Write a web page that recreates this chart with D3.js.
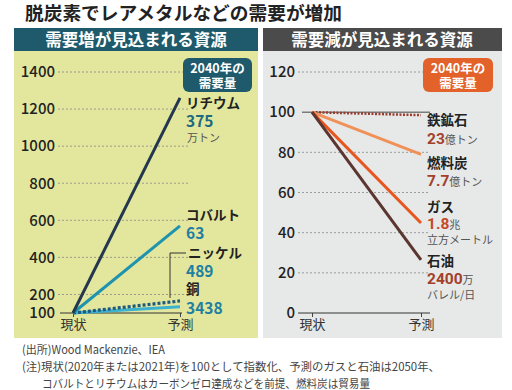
<!DOCTYPE html>
<html><head><meta charset="utf-8">
<script src="https://cdn.jsdelivr.net/npm/d3@7"></script>
<style>
body{margin:0;background:#fff;}
svg text{font-family:"Noto Sans CJK JP","Noto Sans",sans-serif;}
</style></head>
<body>
<svg id="c" width="512" height="390"></svg>
<script>
const xCats = ["現状", "予測"];
// left panel: demand increase (index, 現状=100)
const incNames = ["リチウム", "コバルト", "ニッケル", "銅"];
const incValues = [[100, 1260], [100, 570], [100, 165], [100, 134]];
const incAmounts = ["375", "63", "489", "3438"];
const incUnits = ["万トン", "", "", ""];
const incTicks = [100, 200, 400, 600, 800, 1000, 1200, 1400];
// right panel: demand decrease
const decNames = ["鉄鉱石", "燃料炭", "ガス", "石油"];
const decValues = [[100, 98.5], [100, 79], [100, 44.8], [100, 26.4]];
const decAmounts = ["23", "7.7", "1.8", "2400"];
const decUnits = ["億トン", "億トン", "兆", "万"];
const decUnits2 = ["", "", "立方メートル", "バレル/日"];
const decTicks = [0, 20, 40, 60, 80, 100, 120];

const svg = d3.select("#c");
const F = '"Noto Sans CJK JP","Noto Sans",sans-serif';
const NUMF = "Roboto,'Noto Sans',sans-serif";

// title
svg.append("text").attr("x", 25).attr("y", 20).attr("font-size", 18.5).attr("font-weight", 700)
  .attr("fill", "#222").attr("textLength", 317).attr("lengthAdjust", "spacingAndGlyphs")
  .text("脱炭素でレアメタルなどの需要が増加");

// panels
svg.append("rect").attr("x", 14).attr("y", 28).attr("width", 244).attr("height", 310).attr("fill", "#e3e79d");
svg.append("rect").attr("x", 14).attr("y", 28).attr("width", 244).attr("height", 23).attr("fill", "#1e5a6b");
svg.append("text").attr("x", 136).attr("y", 45.5).attr("text-anchor", "middle").attr("font-size", 16.5)
  .attr("font-weight", 700).attr("fill", "#fff").text("需要増が見込まれる資源");

svg.append("rect").attr("x", 263).attr("y", 28).attr("width", 239).attr("height", 310).attr("fill", "#e7e9e9");
svg.append("rect").attr("x", 263).attr("y", 28).attr("width", 239).attr("height", 23).attr("fill", "#4b4b4b");
svg.append("text").attr("x", 382).attr("y", 45.5).attr("text-anchor", "middle").attr("font-size", 16.5)
  .attr("font-weight", 700).attr("fill", "#fff").text("需要減が見込まれる資源");

// ---------- left chart ----------
const yL = d3.scaleLinear().domain([100, 1400]).range([313, 72]);
const xL = d3.scalePoint().domain(xCats).range([73, 180]);
const gL = svg.append("g");
gL.selectAll(".gl").data(incTicks.filter(t => t > 100)).enter().append("line")
  .attr("x1", 58).attr("x2", 188).attr("y1", d => yL(d)).attr("y2", d => yL(d))
  .attr("stroke", "#888").attr("stroke-width", 0.8).attr("stroke-dasharray", "2,2");
const axL = d3.axisLeft(yL).tickValues(incTicks).tickFormat(d3.format("d")).tickSize(0).tickPadding(0);
const gAxL = gL.append("g").attr("transform", "translate(55,0)").call(axL);
gAxL.select(".domain").remove();
gAxL.selectAll("text").attr("font-size", 15).attr("font-weight", 500).attr("fill", "#222").attr("font-family", NUMF);
const xaL = d3.axisBottom(xL).tickSize(4).tickPadding(3);
const gxL = gL.append("g").attr("transform", `translate(0,${yL(100)})`).call(xaL);
gxL.select(".domain").remove();
gxL.selectAll("line").attr("stroke", "#444");
gxL.selectAll("text").attr("font-size", 13).attr("fill", "#333").attr("font-family", F);
gL.append("line").attr("x1", 60).attr("x2", 182).attr("y1", yL(100)).attr("y2", yL(100)).attr("stroke", "#333").attr("stroke-width", 1);

const incColors = ["#24374f", "#1d93b0", "#1f5a7c", "#3cb2cf"];
const incDash = [null, null, "3,2", null];
const lineL = d3.line().x((d, i) => xL(xCats[i])).y(d => yL(d));
[3, 2, 1, 0].forEach(i => {
  gL.append("path").attr("d", lineL(incValues[i])).attr("fill", "none")
    .attr("stroke", incColors[i]).attr("stroke-width", i === 2 ? 3.2 : 3)
    .attr("stroke-dasharray", incDash[i]);
});
gL.append("path").attr("d", `M170,${yL(incValues[2][1]) - 3} V253 H186`).attr("fill", "none").attr("stroke", "#333").attr("stroke-width", 1);

const incLabY = [[103, 120, 136], [215, 232], [253, 270], [289, 307]];
incNames.forEach((n, i) => {
  gL.append("text").attr("x", i === 2 ? 188 : 186).attr("y", incLabY[i][0] + 4.5).attr("font-size", 13.5).attr("font-weight", 700).attr("fill", "#222").text(n);
  gL.append("text").attr("x", 186).attr("y", incLabY[i][1] + 6.5).attr("font-size", 15.5).attr("font-weight", 700)
    .attr("fill", i === 0 ? "#1b6a80" : "#1f7fa2").attr("font-family", NUMF).text(incAmounts[i]);
  if (incUnits[i]) gL.append("text").attr("x", 187).attr("y", incLabY[i][2] + 5.5).attr("font-size", 11).attr("fill", "#555").text(incUnits[i]);
});
gL.append("rect").attr("x", 183).attr("y", 58).attr("width", 69).attr("height", 34).attr("rx", 6).attr("fill", "#1e5a6b");
gL.append("text").attr("x", 217.5).attr("y", 72.5).attr("text-anchor", "middle").attr("font-size", 12.5).attr("font-weight", 700).attr("fill", "#fff").text("2040年の");
gL.append("text").attr("x", 217.5).attr("y", 88).attr("text-anchor", "middle").attr("font-size", 12.5).attr("font-weight", 700).attr("fill", "#fff").text("需要量");

// ---------- right chart ----------
const yR = d3.scaleLinear().domain([0, 120]).range([313, 72]);
const xR = d3.scalePoint().domain(xCats).range([312, 421]);
const gR = svg.append("g");
gR.selectAll(".gr").data(decTicks.filter(t => t > 0 && t !== 100)).enter().append("line")
  .attr("x1", 298).attr("x2", 430).attr("y1", d => yR(d)).attr("y2", d => yR(d))
  .attr("stroke", "#888").attr("stroke-width", 0.8).attr("stroke-dasharray", "2,2");
gR.append("line").attr("x1", 302).attr("x2", 430).attr("y1", yR(100)).attr("y2", yR(100)).attr("stroke", "#444").attr("stroke-width", 1);
const axR = d3.axisLeft(yR).tickValues(decTicks).tickFormat(d3.format("d")).tickSize(0).tickPadding(0);
const gAxR = gR.append("g").attr("transform", "translate(295,0)").call(axR);
gAxR.select(".domain").remove();
gAxR.selectAll("text").attr("font-size", 15).attr("font-weight", 500).attr("fill", "#222").attr("font-family", NUMF);
const xaR = d3.axisBottom(xR).tickSize(4).tickPadding(3);
const gxR = gR.append("g").attr("transform", `translate(0,${yR(0)})`).call(xaR);
gxR.select(".domain").remove();
gxR.selectAll("line").attr("stroke", "#444");
gxR.selectAll("text").attr("font-size", 13).attr("fill", "#333").attr("font-family", F);
gR.append("line").attr("x1", 298).attr("x2", 430).attr("y1", yR(0)).attr("y2", yR(0)).attr("stroke", "#333").attr("stroke-width", 1);

const decColors = ["#9b3b2b", "#f0915a", "#e8561f", "#5b3530"];
const lineR = d3.line().x((d, i) => xR(xCats[i])).y(d => yR(d));
[0, 1, 2, 3].forEach(i => {
  gR.append("path").attr("d", lineR(decValues[i])).attr("fill", "none")
    .attr("stroke", decColors[i]).attr("stroke-width", i === 0 ? 2.5 : 3)
    .attr("stroke-dasharray", i === 0 ? "2,1.5" : null);
});
const decLabY = [[120, 138], [163, 180], [207, 223, 239], [261, 278, 294]];
const decNumCol = ["#a3402c", "#a3402c", "#c44a28", "#a3402c"];
decNames.forEach((n, i) => {
  gR.append("text").attr("x", 427).attr("y", decLabY[i][0] + 4.5).attr("font-size", 13.5).attr("font-weight", 700).attr("fill", "#222").text(n);
  const t = gR.append("text").attr("x", 427).attr("y", decLabY[i][1] + 6);
  t.append("tspan").attr("font-size", 15.5).attr("font-weight", 700).attr("fill", decNumCol[i])
    .attr("font-family", NUMF).text(decAmounts[i]);
  t.append("tspan").attr("font-size", 11).attr("fill", "#555").text(decUnits[i]);
  if (decUnits2[i]) gR.append("text").attr("x", 427).attr("y", decLabY[i][2] + 5).attr("font-size", 11).attr("fill", "#555").text(decUnits2[i]);
});
gR.append("rect").attr("x", 423).attr("y", 58).attr("width", 70).attr("height", 34).attr("rx", 6).attr("fill", "#e2622a");
gR.append("text").attr("x", 458).attr("y", 72.5).attr("text-anchor", "middle").attr("font-size", 12.5).attr("font-weight", 700).attr("fill", "#fff").text("2040年の");
gR.append("text").attr("x", 458).attr("y", 88).attr("text-anchor", "middle").attr("font-size", 12.5).attr("font-weight", 700).attr("fill", "#fff").text("需要量");

// footer
const notes = [
  [22, 354, "(出所)Wood Mackenzie、IEA", 143],
  [22, 371, "(注)現状(2020年または2021年)を100として指数化、予測のガスと石油は2050年、", 418],
  [42, 388, "コバルトとリチウムはカーボンゼロ達成などを前提、燃料炭は貿易量", 328]
];
notes.forEach(n => svg.append("text").attr("x", n[0]).attr("y", n[1]).attr("font-size", 11.5).attr("fill", "#444")
  .attr("textLength", n[3]).attr("lengthAdjust", "spacingAndGlyphs").text(n[2]));
</script>
</body></html>
